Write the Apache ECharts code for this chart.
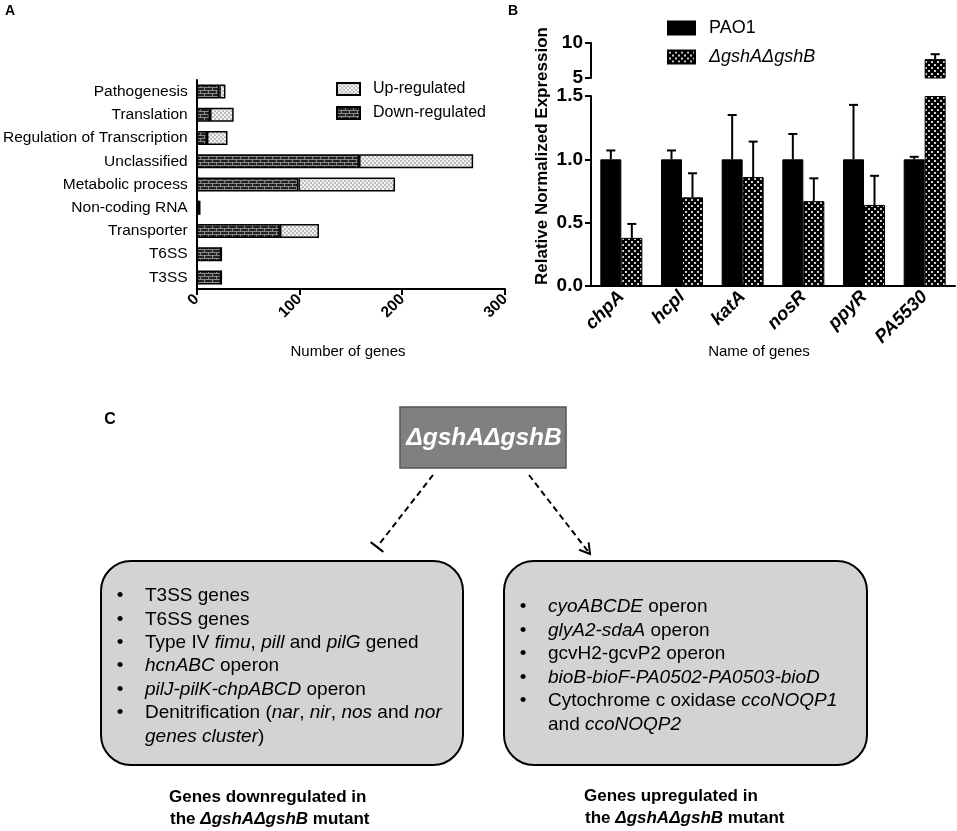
<!DOCTYPE html>
<html>
<head>
<meta charset="utf-8">
<script src="https://cdn.jsdelivr.net/npm/echarts@6/dist/echarts.min.js"></script>
<style>html,body{margin:0;padding:0;background:#fff;}#c{width:957px;height:831px;}</style>
</head>
<body>
<div id="c"></div>
<script>
// ---------- Data ----------
const categoriesA = ['Pathogenesis','Translation','Regulation of Transcription','Unclassified','Metabolic process','Non-coding RNA','Transporter','T6SS','T3SS'];
const downA = [22, 13, 10, 158, 99, 3, 81, 24, 24];
const upA   = [6, 23, 20, 111, 94, 0, 38, 0, 0];
const ticksA = [0, 100, 200, 300];

const genesB = ['chpA','hcpl','katA','nosR','ppyR','PA5530'];
const pao1      = [1.00, 1.00, 1.00, 1.00, 1.00, 1.00];
const pao1Err   = [1.07, 1.07, 1.35, 1.20, 1.43, 1.02];
const mutant    = [0.38, 0.70, 0.86, 0.67, 0.64, 7.7];
const mutantErr = [0.49, 0.89, 1.14, 0.85, 0.87, 8.4];
const lowerTicksB = [0, 0.5, 1.0, 1.5];
const upperTicksB = [5, 10];

const downList = ['T3SS genes','T6SS genes','Type IV {i|fimu}, {i|pill} and {i|pilG} gened','{i|hcnABC} operon','{i|pilJ-pilK-chpABCD} operon','Denitrification ({i|nar}, {i|nir}, {i|nos} and {i|nor}','{i|genes cluster})'];
const downBullets = [true,true,true,true,true,true,false];
const upList = ['{i|cyoABCDE} operon','{i|glyA2-sdaA} operon','gcvH2-gcvP2 operon','{i|bioB-bioF-PA0502-PA0503-bioD}','Cytochrome c oxidase {i|ccoNOQP1}','and {i|ccoNOQP2}'];
const upBullets = [true,true,true,true,true,false];

// ---------- Styles ----------
const FF = "'Liberation Sans', Arial, sans-serif";
function pat(w, h, draw){ const c=document.createElement('canvas'); c.width=w; c.height=h; const g=c.getContext('2d'); draw(g); return {image:c, repeat:'repeat'}; }
const brick = pat(8, 6, g => { g.fillStyle='#222'; g.fillRect(0,0,8,6); g.fillStyle='#8a8a8a'; g.fillRect(0,0,8,1); g.fillRect(0,3,8,1); g.fillRect(0,0,1,3); g.fillRect(4,3,1,3); });
const lightCheck = pat(4, 4, g => { g.fillStyle='#f2f2f2'; g.fillRect(0,0,4,4); g.fillStyle='#bdbdbd'; g.fillRect(0,0,2,2); g.fillRect(2,2,2,2); });
const darkCheck = pat(6, 6, g => { g.fillStyle='#000'; g.fillRect(0,0,6,6); g.fillStyle='#d0d0d0'; g.fillRect(1,1,2,2); g.fillRect(4,4,2,2); });

const BW = 21;
const lowerMax = lowerTicksB[lowerTicksB.length-1];
const upperMin = upperTicksB[0];

function errRender(params, api){
  const cat = api.value(0), v = api.value(1), e = api.value(2), side = api.value(3);
  const p0 = api.coord([cat, v]), p1 = api.coord([cat, e]);
  const x = p0[0] + side * BW / 2;
  return {type:'group', children:[
    {type:'line', shape:{x1:x, y1:p0[1], x2:x, y2:p1[1]}, style:{stroke:'#000', lineWidth:2}},
    {type:'line', shape:{x1:x-4.5, y1:p1[1], x2:x+4.5, y2:p1[1]}, style:{stroke:'#000', lineWidth:2}}
  ]};
}
const errLower = [], errUpper = [];
genesB.forEach((g, i) => {
  [[pao1[i], pao1Err[i], -1], [mutant[i], mutantErr[i], 1]].forEach(([v, e, s]) => {
    if (e <= lowerMax) errLower.push([i, v, e, s]); else errUpper.push([i, v, e, s]);
  });
});

// ---------- Panel C graphics ----------
const gfx = [];
function txt(x, y, text, o){ gfx.push({type:'text', x:x, y:y, style:Object.assign({text:text, fill:'#000', fontFamily:FF, fontSize:16, align:'left', verticalAlign:'middle'}, o||{})}); }
txt(10, 11, 'A', {fontWeight:'bold', fontSize:14, align:'center'});
txt(513, 11, 'B', {fontWeight:'bold', fontSize:14, align:'center'});
txt(348, 352, 'Number of genes', {fontSize:15, align:'center'});
txt(759, 352, 'Name of genes', {fontSize:15, align:'center'});
gfx.push({type:'text', x:542, y:156, rotation:Math.PI/2, style:{text:'Relative Normalized Expression', fill:'#000', fontFamily:FF, fontSize:17, fontWeight:'bold', align:'center', verticalAlign:'middle'}});
txt(110, 420, 'C', {fontWeight:'bold', fontSize:16, align:'center'});
gfx.push({type:'rect', shape:{x:400, y:407, width:166, height:61}, style:{fill:'#808080', stroke:'#555', lineWidth:1.5}});
txt(484, 438, 'ΔgshAΔgshB', {fill:'#fff', fontWeight:'bold', fontStyle:'italic', fontSize:24.5, align:'center'});
gfx.push({type:'rect', shape:{x:101, y:561, width:362, height:204, r:30}, style:{fill:'#d3d3d3', stroke:'#000', lineWidth:2}});
gfx.push({type:'rect', shape:{x:504, y:561, width:363, height:204, r:30}, style:{fill:'#d3d3d3', stroke:'#000', lineWidth:2}});
// arrows
function dashed(x1,y1,x2,y2){ gfx.push({type:'line', shape:{x1,y1,x2,y2}, style:{stroke:'#000', lineWidth:2, lineDash:[6,4]}}); }
dashed(433,475,377,547);
(function(){ const dx=377-433, dy=547-475, L=Math.hypot(dx,dy), px=-dy/L, py=dx/L;
  gfx.push({type:'line', shape:{x1:377+8*px, y1:547+8*py, x2:377-8*px, y2:547-8*py}, style:{stroke:'#000', lineWidth:2}}); })();
dashed(529,475,590,554);
(function(){ const dx=590-529, dy=554-475, L=Math.hypot(dx,dy), ux=dx/L, uy=dy/L, px=-uy, py=ux;
  gfx.push({type:'polyline', shape:{points:[[590-10*ux+6*px, 554-10*uy+6*py],[590,554],[590-10*ux-6*px, 554-10*uy-6*py]]}, style:{stroke:'#000', lineWidth:2, fill:null}}); })();
const richI = {i:{fontStyle:'italic', fontFamily:FF, fontSize:19, fill:'#000'}};
downList.forEach((t, k) => {
  const y = 596 + k*23.4;
  if (downBullets[k]) txt(120, y, '•', {fontSize:19, align:'center'});
  txt(145, y, t, {fontSize:19, rich:richI});
});
upList.forEach((t, k) => {
  const y = 607 + k*23.5;
  if (upBullets[k]) txt(523, y, '•', {fontSize:19, align:'center'});
  txt(548, y, t, {fontSize:19, rich:richI});
});
const richB = {i:{fontStyle:'italic', fontWeight:'bold', fontFamily:FF, fontSize:17, fill:'#000'}};
txt(169, 797, 'Genes downregulated in', {fontWeight:'bold', fontSize:17});
txt(170, 819, 'the {i|ΔgshAΔgshB} mutant', {fontWeight:'bold', fontSize:17, rich:richB});
txt(584, 796, 'Genes upregulated in', {fontWeight:'bold', fontSize:17});
txt(585, 818, 'the {i|ΔgshAΔgshB} mutant', {fontWeight:'bold', fontSize:17, rich:richB});

// ---------- Chart ----------
const axisLine = {lineStyle:{color:'#000', width:2}};
const axisTick = {lineStyle:{color:'#000', width:2}, length:6};
const chart = echarts.init(document.getElementById('c'));
chart.setOption({
  animation:false,
  textStyle:{fontFamily:FF},
  grid:[
    {left:196, top:80, width:309, height:209},
    {left:591, top:96, width:364, height:190},
    {left:591, top:43, width:364, height:35}
  ],
  legend:[
    {data:['Up-regulated','Down-regulated'], orient:'vertical', left:336, top:81, padding:0, itemWidth:23, itemHeight:12, itemGap:8, icon:'rect',
     textStyle:{fontSize:16, lineHeight:16, color:'#000', padding:[0,0,0,8]}},
    {data:[{name:'PAO1'},{name:'ΔgshAΔgshB', textStyle:{fontStyle:'italic'}}], orient:'vertical', left:667, top:19, padding:0, itemWidth:27, itemHeight:13, itemGap:11, icon:'rect',
     textStyle:{fontSize:18, lineHeight:18, color:'#000', padding:[0,0,0,9]}}
  ],
  xAxis:[
    {type:'value', gridIndex:0, min:ticksA[0], max:ticksA[ticksA.length-1], interval:100, axisLine:Object.assign({show:true},axisLine), axisTick:Object.assign({show:true},axisTick), splitLine:{show:false},
     axisLabel:{rotate:45, fontWeight:'bold', fontSize:15.5, color:'#000', margin:8}},
    {type:'category', gridIndex:1, data:genesB, axisLine:axisLine, axisTick:Object.assign({alignWithLabel:true},axisTick),
     axisLabel:{rotate:45, fontWeight:'bold', fontStyle:'italic', fontSize:18.5, color:'#000', margin:8}},
    {type:'category', gridIndex:2, data:genesB, show:false}
  ],
  yAxis:[
    {type:'category', gridIndex:0, data:categoriesA, inverse:true, axisLine:axisLine, axisTick:Object.assign({alignWithLabel:true},axisTick,{length:5}),
     axisLabel:{fontSize:15.5, color:'#000', margin:9}},
    {type:'value', gridIndex:1, min:0, max:lowerMax, interval:0.5, axisLine:Object.assign({show:true},axisLine), axisTick:Object.assign({show:true},axisTick), splitLine:{show:false},
     axisLabel:{fontWeight:'bold', fontSize:19, color:'#000', margin:8, formatter:v => v.toFixed(1)}},
    {type:'value', gridIndex:2, min:upperMin, max:upperTicksB[1], interval:5, axisLine:Object.assign({show:true},axisLine), axisTick:Object.assign({show:true},axisTick), splitLine:{show:false},
     axisLabel:{fontWeight:'bold', fontSize:19, color:'#000', margin:8}}
  ],
  series:[
    {name:'Down-regulated', type:'bar', xAxisIndex:0, yAxisIndex:0, stack:'a', data:downA, barWidth:14,
     itemStyle:{color:brick, borderColor:'#000', borderWidth:1.5}},
    {name:'Up-regulated', type:'bar', xAxisIndex:0, yAxisIndex:0, stack:'a', data:upA, barWidth:14,
     itemStyle:{color:lightCheck, borderColor:'#000', borderWidth:1.5}},
    {name:'PAO1', type:'bar', xAxisIndex:1, yAxisIndex:1, data:pao1.map(v => Math.min(v, lowerMax)), barWidth:BW, barGap:'0%', clip:true,
     itemStyle:{color:'#000', borderColor:'#000', borderWidth:1}},
    {name:'ΔgshAΔgshB', type:'bar', xAxisIndex:1, yAxisIndex:1, data:mutant.map(v => Math.min(v, lowerMax)), barWidth:BW, barGap:'0%', clip:true,
     itemStyle:{color:darkCheck, borderColor:'#000', borderWidth:1}},
    {name:'PAO1', type:'bar', xAxisIndex:2, yAxisIndex:2, data:pao1.map(v => v > upperMin ? v : '-'), barWidth:BW, barGap:'0%',
     itemStyle:{color:'#000'}},
    {name:'ΔgshAΔgshB', type:'bar', xAxisIndex:2, yAxisIndex:2, data:mutant.map(v => v > upperMin ? v : '-'), barWidth:BW, barGap:'0%',
     itemStyle:{color:darkCheck, borderColor:'#000', borderWidth:1}},
    {type:'custom', xAxisIndex:1, yAxisIndex:1, data:errLower, renderItem:errRender, z:1, clip:false},
    {type:'custom', xAxisIndex:2, yAxisIndex:2, data:errUpper, renderItem:errRender, z:1, clip:false}
  ],
  graphic:gfx
});
</script>
</body>
</html>
